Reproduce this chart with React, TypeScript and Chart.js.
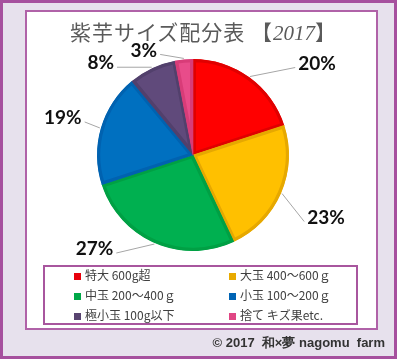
import React, { useEffect, useRef } from "react";
import { Chart, registerables } from "chart.js";

Chart.register(...registerables);

const categories = [
  "特大 600g超",
  "大玉 400～600ｇ",
  "中玉 200～400ｇ",
  "小玉 100～200ｇ",
  "極小玉 100g以下",
  "捨て キズ果etc.",
];
const shares = [20, 23, 27, 19, 8, 3];
const fillColors = ["#ff0000", "#ffc000", "#00b050", "#0070c0", "#604a7b", "#e84c8a"];
const edgeColors = ["#e00000", "#e6a800", "#00a044", "#0062b0", "#52406c", "#d83c78"];
const legendColors = ["#e8000b", "#e8aa00", "#00a848", "#0064b4", "#584470", "#e04684"];
// label offsets (px) from the arc's outer mid point
const labelOffsets: [number, number][] = [
  [67, -13],
  [44, 24],
  [-60, 5],
  [-37, -10],
  [-51, -4],
  [-40, -8],
];

const labelPlugin = {
  id: "outLabels",
  afterDatasetsDraw(chart: any) {
    const ctx = chart.ctx;
    const meta = chart.getDatasetMeta(0);
    const data = chart.data.datasets[0].data as number[];
    ctx.save();
    ctx.font = "bold 19px Lato";
    ctx.textAlign = "center";
    ctx.textBaseline = "middle";
    meta.data.forEach((arc: any, i: number) => {
      const p = arc.getProps(["x", "y", "startAngle", "endAngle", "outerRadius"], true);
      const mid = (p.startAngle + p.endAngle) / 2;
      const ax = p.x + Math.cos(mid) * (p.outerRadius + 1);
      const ay = p.y + Math.sin(mid) * (p.outerRadius + 1);
      const [dx, dy] = labelOffsets[i];
      const lx = ax + dx;
      const ly = ay + dy;
      const text = data[i] + "%";
      const w = ctx.measureText(text).width;
      const ex = dx > 0 ? lx - w / 2 - 3 : lx + w / 2 + 3;
      const ey = ly + 4;
      ctx.strokeStyle = "#a6a6a6";
      ctx.lineWidth = 1;
      ctx.beginPath();
      ctx.moveTo(ax, ay);
      ctx.lineTo(ex, ey);
      ctx.stroke();
      ctx.fillStyle = "#111111";
      ctx.fillText(text, lx, ly);
    });
    ctx.restore();
  },
};

export default function App() {
  const ref = useRef<HTMLCanvasElement | null>(null);
  useEffect(() => {
    if (!ref.current) return;
    const chart = new Chart(ref.current, {
      type: "pie",
      data: {
        labels: categories,
        datasets: [
          {
            data: shares,
            backgroundColor: fillColors,
            borderColor: edgeColors,
            borderWidth: 3,
            borderAlign: "inner",
          },
        ],
      },
      options: {
        responsive: false,
        animation: false,
        events: [],
        layout: { padding: { left: 97, top: 59, right: 108, bottom: 108 } },
        plugins: { legend: { display: false }, tooltip: { enabled: false }, title: { display: false } },
      },
      plugins: [labelPlugin],
    });
    return () => chart.destroy();
  }, []);

  const legendRows = [0, 2, 4];
  return (
    <div
      style={{
        position: "absolute",
        left: 0,
        top: 0,
        width: 397,
        height: 359,
        boxSizing: "border-box",
        border: "3px solid #a6509e",
        background: "#e7e1ed",
        fontFamily: "'Noto Sans CJK JP', sans-serif",
      }}
    >
      <div
        style={{
          position: "absolute",
          left: 22,
          top: 7,
          width: 353,
          height: 320,
          boxSizing: "border-box",
          border: "2px solid #b062a8",
          background: "#ffffff",
        }}
      />
      <canvas
        ref={ref}
        width={397}
        height={359}
        style={{ position: "absolute", left: -3, top: -3, width: 397, height: 359 }}
      />
      <div
        style={{
          position: "absolute",
          left: 67,
          top: 15,
          whiteSpace: "nowrap",
          fontSize: 21,
          color: "#5a5a5a",
          lineHeight: "26px",
          letterSpacing: 1,
        }}
      >
        紫芋サイズ配分表 【<span style={{ fontFamily: "'Liberation Serif', serif", fontStyle: "italic", letterSpacing: 0 }}>2017</span>】
      </div>
      <div
        style={{
          position: "absolute",
          left: 40,
          top: 262,
          width: 315,
          height: 60,
          boxSizing: "border-box",
          border: "2px solid #a8569e",
        }}
      >
        {legendRows.map((start, r) =>
          [0, 1].map((c) => {
            const i = start + c;
            return (
              <div
                key={i}
                style={{
                  position: "absolute",
                  left: c === 0 ? 29 : 184,
                  top: -2 + r * 20,
                  height: 18,
                  display: "flex",
                  alignItems: "center",
                  whiteSpace: "nowrap",
                  fontSize: 12,
                  color: "#404040",
                }}
              >
                <span
                  style={{
                    display: "inline-block",
                    width: 7,
                    height: 7,
                    background: legendColors[i],
                    marginRight: 4,
                    marginTop: 4,
                  }}
                />
                {categories[i]}
              </div>
            );
          })
        )}
      </div>
      <div
        style={{
          position: "absolute",
          right: 9,
          top: 332,
          fontFamily: "'Liberation Sans', sans-serif",
          fontWeight: "bold",
          fontSize: 13,
          color: "#333333",
          whiteSpace: "pre",
          lineHeight: "16px",
        }}
      >
        {"© 2017  和×夢 nagomu  farm"}
      </div>
    </div>
  );
}
